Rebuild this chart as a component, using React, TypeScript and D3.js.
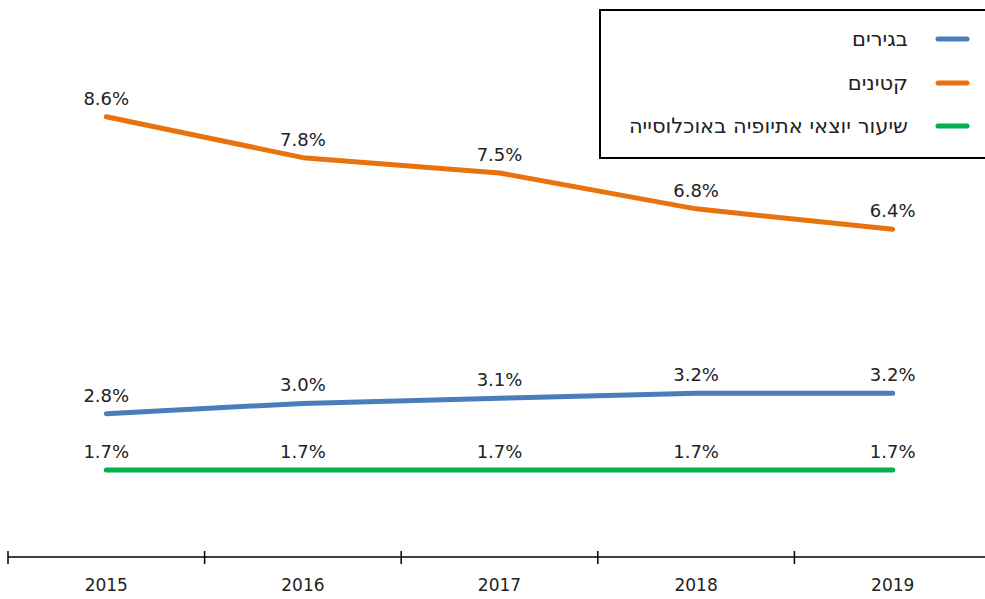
import React, { useEffect, useRef } from "react";
import * as d3 from "d3";

// Chart data
const years = ["2015", "2016", "2017", "2018", "2019"];
const adults = [2.8, 3.0, 3.1, 3.2, 3.2];
const minors = [8.6, 7.8, 7.5, 6.8, 6.4];
const population = [1.7, 1.7, 1.7, 1.7, 1.7];

const seriesNames = ["בגירים", "קטינים", "שיעור יוצאי אתיופיה באוכלוסייה"];
const seriesColors = ["#4a7ebb", "#e8730e", "#00b050"];
const seriesValues = [adults, minors, population];

const W = 985;
const H = 599;
const FONT = "'DejaVu Sans', Verdana, sans-serif";

const App: React.FC = () => {
  const svgRef = useRef<SVGSVGElement | null>(null);

  useEffect(() => {
    if (!svgRef.current) return;
    const svg = d3.select(svgRef.current);
    svg.selectAll("*").remove();

    const x = d3.scaleBand<string>().domain(years).range([8, 991]);
    const y = d3.scaleLinear().domain([0, 10]).range([557, 45]);
    const axisY = 557;

    // x axis
    const axis = svg.append("g");
    axis
      .append("line")
      .attr("x1", 8)
      .attr("x2", W)
      .attr("y1", axisY)
      .attr("y2", axisY)
      .attr("stroke", "#000")
      .attr("stroke-width", 1.5);
    axis
      .selectAll("line.tick")
      .data(years)
      .enter()
      .append("line")
      .attr("class", "tick")
      .attr("x1", (d) => x(d)!)
      .attr("x2", (d) => x(d)!)
      .attr("y1", axisY - 6)
      .attr("y2", axisY + 7)
      .attr("stroke", "#000")
      .attr("stroke-width", 1.5);
    axis
      .selectAll("text")
      .data(years)
      .enter()
      .append("text")
      .attr("x", (d) => x(d)! + x.bandwidth() / 2)
      .attr("y", 591)
      .attr("text-anchor", "middle")
      .attr("font-family", FONT)
      .attr("font-size", "17px")
      .attr("fill", "#222")
      .text((d) => d);

    const cx = (i: number) => x(years[i])! + x.bandwidth() / 2;
    const line = d3
      .line<number>()
      .x((_, i) => cx(i))
      .y((d) => y(d));

    seriesValues.forEach((vals, s) => {
      svg
        .append("path")
        .datum(vals)
        .attr("fill", "none")
        .attr("stroke", seriesColors[s])
        .attr("stroke-width", 5)
        .attr("stroke-linecap", "round")
        .attr("stroke-linejoin", "round")
        .attr("d", line);

      svg
        .append("g")
        .selectAll("text")
        .data(vals)
        .enter()
        .append("text")
        .attr("x", (_, i) => cx(i))
        .attr("y", (d) => y(d) - 12)
        .attr("text-anchor", "middle")
        .attr("font-family", FONT)
        .attr("font-size", "18px")
        .attr("fill", "#222")
        .text((d) => d.toFixed(1) + "%");
    });

    // legend
    const legend = svg.append("g");
    legend
      .append("rect")
      .attr("x", 600)
      .attr("y", 10)
      .attr("width", 400)
      .attr("height", 148)
      .attr("fill", "#fff")
      .attr("stroke", "#000")
      .attr("stroke-width", 2);
    const legendY = [39, 83, 126];
    seriesNames.forEach((name, s) => {
      legend
        .append("line")
        .attr("x1", 938)
        .attr("x2", 967)
        .attr("y1", legendY[s])
        .attr("y2", legendY[s])
        .attr("stroke", seriesColors[s])
        .attr("stroke-width", 5)
        .attr("stroke-linecap", "round");
      legend
        .append("text")
        .attr("x", 908)
        .attr("y", legendY[s])
        .attr("dy", "0.35em")
        .attr("text-anchor", "end")
        .attr("font-family", FONT)
        .attr("font-size", "21px")
        .attr("fill", "#222")
        .text(name);
    });
  }, []);

  return (
    <svg
      ref={svgRef}
      width={W}
      height={H}
      style={{ position: "absolute", left: 0, top: 0, display: "block" }}
    />
  );
};

export default App;
